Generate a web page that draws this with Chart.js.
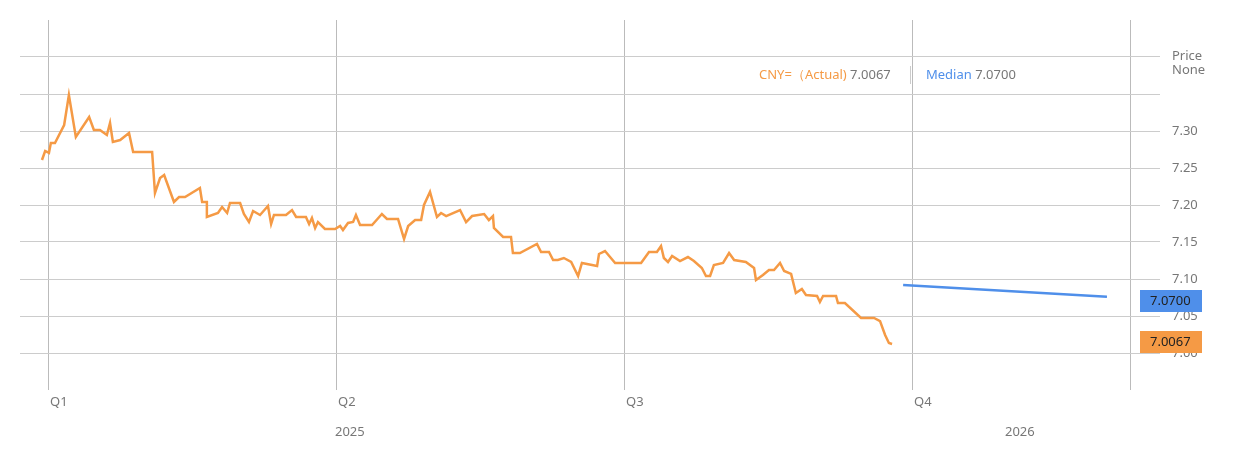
<!DOCTYPE html>
<html><head><meta charset="utf-8">
<script src="https://cdn.jsdelivr.net/npm/chart.js@4/dist/chart.umd.min.js"></script>
<style>html,body{margin:0;background:#fff}#w{width:1238px;height:459px}</style>
</head><body><div id="w"><canvas id="c"></canvas></div>
<script>
const actualX=[42,45,49,51,55,64,69,76,89,94,100,107,110,113,120,129,133,152,155,160,164,174,179,185,200,202,207,207,218,222,227,230,240,244,249,253,260,268,271,274,286,292,296,306,309,312,315,318,325,335,340,343,348,353,356,360,372,382,387,398,404,408,415,421,424,430,437,441,446,460,466,472,484,489,493,494,503,511,513,520,537,541,549,553,558,564,571,578,582,597,599,605,615,641,649,657,661,664,668,672,680,688,694,702,706,710,714,723,729,734,746,754,756,763,769,774,780,784,791,796,802,806,817,820,823,836,838,845,861,874,880,885,889,892];
const actualY=[160,151,153,143,143,125,95,137,117,130,130,135,123,142,140,133,152,152,193,178,175,202,197,197,188,202,202,217,213,207,213,203,203,214,222,211,215,206,224,215,215,210,217,217,224,218,228,222,229,229,226,230,223,222,215,225,225,214,219,219,239,226,220,220,205,192,217,213,216,210,222,216,214,220,216,228,237,237,253,253,244,252,252,260,260,258,262,276,263,266,254,251,263,263,252,252,246,258,262,256,261,257,261,268,276,276,265,263,253,260,262,268,280,275,270,270,263,271,274,293,289,295,296,302,296,296,303,303,318,318,321,335,343,344];
// convert picture readings to day index / price values
const dayOf=x=>(x-48)*91/288;
const priceOf=y=>7+(353-y)*0.05/37;
const actual=actualX.map((x,i)=>({x:+dayOf(x).toFixed(1),y:+priceOf(actualY[i]).toFixed(4)}));
const median=[{x:+dayOf(903).toFixed(1),y:7.092},{x:+dayOf(1107).toFixed(1),y:7.076}];
const quarterDays=[0,91,182,273,342];
const quarterLabels=['Q1','Q2','Q3','Q4',''];
const yTicks=[7.00,7.05,7.10,7.15,7.20,7.25,7.30];
const F='"Source Sans Pro","Noto Sans",Lato,sans-serif';
const deco={id:'deco',afterDraw(ch){
 const c=ch.ctx,x=ch.scales.x,y=ch.scales.y;
 c.save();c.font='13px '+F;c.fillStyle='#777';c.textBaseline='middle';c.textAlign='left';
 yTicks.forEach(v=>c.fillText(v.toFixed(2),1172,y.getPixelForValue(v)));
 c.fillText('Price',1172,56);c.fillText('None',1172,70);
 quarterDays.forEach((d,i)=>{if(quarterLabels[i])c.fillText(quarterLabels[i],x.getPixelForValue(d)+2,402);});
 c.fillText('2025',335,432);c.fillText('2026',1005,432);
 // legend
 c.fillStyle='#f59a45';c.fillText('CNY=（Actual)',759,75);
 let w=c.measureText('CNY=（Actual) ').width;c.fillStyle='#777';c.fillText('7.0067',759+w,75);
 c.fillStyle='#ccc';c.fillRect(910,66,1,18);
 c.fillStyle='#4f8fea';c.fillText('Median',926,75);w=c.measureText('Median ').width;
 c.fillStyle='#777';c.fillText('7.0700',926+w,75);
 // value boxes
 c.fillStyle='#4f8fea';c.fillRect(1140,290,62,22);c.fillStyle='#222';c.fillText('7.0700',1150,301);
 c.fillStyle='#f59a45';c.fillRect(1140,331,62,22);c.fillStyle='#222';c.fillText('7.0067',1150,342);
 c.restore();}};
new Chart(document.getElementById('c'),{type:'line',
 data:{datasets:[
  {data:actual,borderColor:'#f59a45',borderWidth:2.5,pointRadius:0,tension:0},
  {data:median,borderColor:'#4f8fea',borderWidth:2.5,pointRadius:0,tension:0}]},
 options:{animation:false,responsive:true,maintainAspectRatio:false,
  layout:{padding:{left:20,right:78,top:20,bottom:69}},
  plugins:{legend:{display:false},tooltip:{enabled:false}},
  scales:{
   x:{type:'linear',min:dayOf(20),max:dayOf(1160),
    afterBuildTicks:s=>{s.ticks=quarterDays.map(v=>({value:v}));},
    ticks:{display:false},border:{display:false},
    grid:{color:'#bbb',lineWidth:1,drawTicks:false}},
   y:{position:'right',min:6.95,max:7.45,
    afterBuildTicks:s=>{s.ticks=[7,7.05,7.1,7.15,7.2,7.25,7.3,7.35,7.4].map(v=>({value:v}));},
    ticks:{display:false},border:{display:false},
    grid:{color:'#ccc',lineWidth:1,drawTicks:false}}}},
 plugins:[deco]});
</script></body></html>
